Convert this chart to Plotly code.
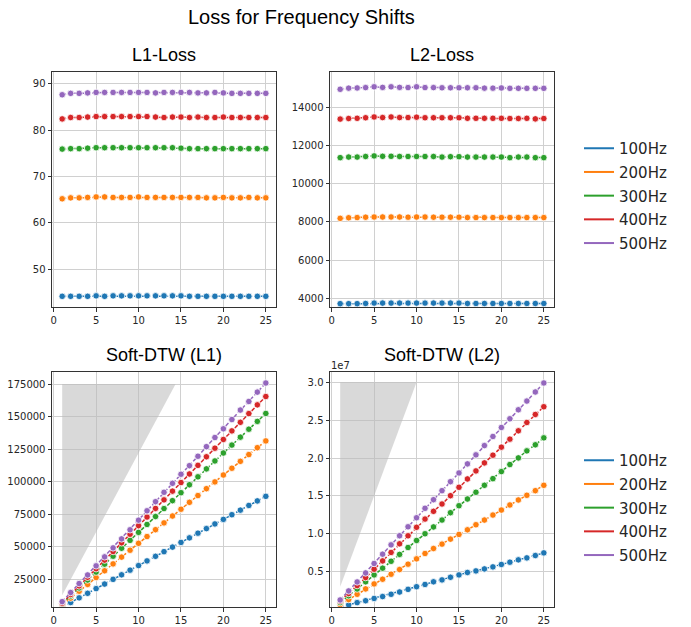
import plotly.graph_objects as go
from plotly.subplots import make_subplots

W, H = 691, 627

steps = list(range(1, 26))
labels = ["100Hz", "200Hz", "300Hz", "400Hz", "500Hz"]
colors = ["#1f77b4", "#ff7f0e", "#2ca02c", "#d62728", "#9467bd"]

l1_100 = [44.2,44.2,44.2,44.2,44.3,44.2,44.3,44.3,44.3,44.3,44.3,44.3,44.3,44.3,44.3,44.2,44.2,44.2,44.2,44.2,44.2,44.2,44.2,44.2,44.2]
l1_200 = [65.2,65.4,65.4,65.5,65.6,65.6,65.5,65.5,65.5,65.6,65.5,65.5,65.5,65.5,65.5,65.5,65.5,65.4,65.4,65.5,65.4,65.4,65.5,65.4,65.4]
l1_300 = [75.9,76.0,76.0,76.1,76.2,76.2,76.2,76.2,76.2,76.2,76.2,76.2,76.2,76.2,76.1,76.0,76.0,76.0,76.0,76.0,76.0,76.0,76.0,76.0,76.0]
l1_400 = [82.4,82.7,82.7,82.8,82.9,82.9,82.9,82.9,82.9,82.9,82.9,82.8,82.7,82.8,82.8,82.7,82.8,82.7,82.7,82.8,82.7,82.7,82.7,82.7,82.7]
l1_500 = [87.6,87.9,87.9,88.0,88.1,88.1,88.1,88.1,88.1,88.1,88.1,88.0,88.1,88.1,88.1,88.1,88.0,88.0,88.1,88.0,87.9,87.9,87.9,87.9,87.9]

l2_100 = [3720,3720,3720,3730,3750,3750,3750,3750,3750,3750,3750,3750,3750,3750,3750,3730,3730,3730,3730,3730,3730,3730,3730,3730,3730]
l2_200 = [8190,8220,8230,8250,8260,8260,8260,8260,8250,8260,8260,8250,8250,8250,8250,8230,8230,8230,8230,8230,8230,8230,8230,8230,8230]
l2_300 = [11370,11400,11400,11430,11460,11440,11440,11430,11430,11430,11430,11430,11400,11420,11420,11400,11400,11400,11400,11400,11370,11400,11400,11370,11370]
l2_400 = [13390,13420,13430,13460,13500,13470,13500,13470,13470,13490,13460,13460,13460,13460,13460,13430,13430,13430,13430,13430,13420,13420,13430,13400,13420]
l2_500 = [14950,15010,15020,15040,15080,15050,15080,15050,15040,15080,15040,15040,15030,15030,15030,15030,15030,15010,15010,15020,15000,15000,15000,15000,15000]

sd1_100 = [3600,7100,10700,14200,17800,21300,24900,28400,32000,35500,39100,42600,46200,49700,53300,56800,60400,63900,67500,71000,74600,78100,81700,85200,88700]
sd1_200 = [5300,10500,15800,21000,26300,31500,36800,42000,47300,52600,57800,63100,68300,73600,78800,84100,89300,94600,99800,105100,110300,115600,120800,126100,131300]
sd1_300 = [6100,12200,18300,24400,30500,36600,42700,48800,54900,61000,67100,73200,79300,85400,91500,97600,103700,109800,115900,122000,128100,134200,140300,146300,152400]
sd1_400 = [6600,13300,19900,26500,33100,39700,46300,53000,59600,66200,72800,79400,86000,92700,99300,105900,112500,119100,125700,132400,139000,145600,152300,159000,165400]
sd1_500 = [7800,14800,21700,28300,35300,42200,49100,56000,63000,70400,77600,84600,91800,98700,105700,112300,119500,126900,133900,140600,147700,155000,161600,168800,175800]

# Soft-DTW (L2) values in units of 1e7 (as displayed on the axis)
sd2_100 = [0.03,0.06,0.09,0.115,0.145,0.17,0.20,0.23,0.265,0.30,0.33,0.365,0.39,0.425,0.456,0.488,0.509,0.535,0.562,0.594,0.624,0.655,0.681,0.712,0.747]
sd2_200 = [0.064,0.130,0.200,0.271,0.337,0.399,0.465,0.527,0.598,0.668,0.739,0.805,0.863,0.929,0.991,1.052,1.119,1.181,1.247,1.313,1.380,1.446,1.508,1.569,1.640]
sd2_300 = [0.090,0.180,0.270,0.365,0.456,0.545,0.636,0.727,0.818,0.911,1.000,1.090,1.181,1.278,1.370,1.459,1.548,1.640,1.728,1.821,1.914,2.002,2.095,2.175,2.267]
sd2_400 = [0.111,0.210,0.315,0.421,0.531,0.641,0.753,0.867,0.973,1.085,1.194,1.296,1.393,1.503,1.614,1.724,1.830,1.936,2.038,2.144,2.250,2.360,2.470,2.576,2.678]
sd2_500 = [0.125,0.244,0.363,0.482,0.607,0.730,0.853,0.973,1.092,1.211,1.336,1.450,1.569,1.688,1.803,1.923,2.042,2.165,2.285,2.404,2.519,2.638,2.753,2.873,2.992]

# grey band polygons (x, y)
band1_x = [1, 1, 14.37]
band1_y = [12700, 175000, 175000]
band2_x = [1, 1, 10]
band2_y = [0.3, 3.0, 3.0]

panels = [
    ("L1-Loss", [l1_100, l1_200, l1_300, l1_400, l1_500], 1, 1),
    ("L2-Loss", [l2_100, l2_200, l2_300, l2_400, l2_500], 1, 2),
    ("Soft-DTW (L1)", [sd1_100, sd1_200, sd1_300, sd1_400, sd1_500], 2, 1),
    ("Soft-DTW (L2)", [sd2_100, sd2_200, sd2_300, sd2_400, sd2_500], 2, 2),
]

fig = make_subplots(rows=2, cols=2)

# bands
fig.add_trace(go.Scatter(x=band1_x, y=band1_y, fill="toself", mode="none",
                         fillcolor="rgba(185,185,185,0.55)", showlegend=False, hoverinfo="skip"), row=2, col=1)
fig.add_trace(go.Scatter(x=band2_x, y=band2_y, fill="toself", mode="none",
                         fillcolor="rgba(185,185,185,0.55)", showlegend=False, hoverinfo="skip"), row=2, col=2)

for title, series, r, c in panels:
    for vals, col in zip(series, colors):
        fig.add_trace(go.Scatter(
            x=steps, y=vals, mode="lines+markers",
            line=dict(color=col, width=1.5, dash="4px,2px"),
            marker=dict(symbol="circle", size=6.5, color=col, line=dict(color="white", width=0.8)),
            showlegend=False), row=r, col=c)

# legend entries
for lg in ["legend", "legend2"]:
    for lab, col in zip(labels, colors):
        fig.add_trace(go.Scatter(x=[None], y=[None], mode="lines", name=lab,
                                 legendgroup=lg + lab,
                                 line=dict(color=col, width=2), legend=lg))

xl = [52 / W, 276 / W]
xr = [330 / W, 554 / W]
yt = [1 - 307 / H, 1 - 72 / H]
yb = [1 - 607 / H, 1 - 372 / H]

tickfont = dict(family="DejaVu Sans", size=10, color="#262626")
axis_common = dict(showgrid=True, gridcolor="#d0d0d0", gridwidth=1, zeroline=False,
                   showline=True, linecolor="#333333", linewidth=1, mirror=True,
                   ticks="outside", ticklen=3.5, tickcolor="#333333", tickfont=tickfont)

legend_font = dict(family="DejaVu Sans", size=15, color="#262626")

fig.update_layout(
    width=W, height=H, margin=dict(l=0, r=0, t=0, b=0),
    paper_bgcolor="white", plot_bgcolor="white",
    xaxis=dict(domain=xl, anchor="y", range=[-0.2, 26.2], tickvals=[0, 5, 10, 15, 20, 25], **axis_common),
    yaxis=dict(domain=yt, anchor="x", range=[41.9, 92.5], tickvals=[50, 60, 70, 80, 90], **axis_common),
    xaxis2=dict(domain=xr, anchor="y2", range=[-0.2, 26.2], tickvals=[0, 5, 10, 15, 20, 25], **axis_common),
    yaxis2=dict(domain=yt, anchor="x2", range=[3545, 15856], tickvals=[4000, 6000, 8000, 10000, 12000, 14000],
                ticktext=["4000", "6000", "8000", "10000", "12000", "14000"], **axis_common),
    xaxis3=dict(domain=xl, anchor="y3", range=[-0.2, 26.2], tickvals=[0, 5, 10, 15, 20, 25], **axis_common),
    yaxis3=dict(domain=yb, anchor="x3", range=[3670, 184250],
                tickvals=[25000, 50000, 75000, 100000, 125000, 150000, 175000],
                ticktext=["25000", "50000", "75000", "100000", "125000", "150000", "175000"], **axis_common),
    xaxis4=dict(domain=xr, anchor="y4", range=[-0.2, 26.2], tickvals=[0, 5, 10, 15, 20, 25], **axis_common),
    yaxis4=dict(domain=yb, anchor="x4", range=[0.032, 3.137], tickvals=[0.5, 1.0, 1.5, 2.0, 2.5, 3.0],
                ticktext=["0.5", "1.0", "1.5", "2.0", "2.5", "3.0"], **axis_common),
    legend=dict(x=579 / W, y=1 - 132 / H, xanchor="left", yanchor="top", tracegroupgap=1.2,
                font=legend_font, bgcolor="rgba(0,0,0,0)"),
    legend2=dict(x=579 / W, y=1 - 444 / H, xanchor="left", yanchor="top", tracegroupgap=1.2,
                 font=legend_font, bgcolor="rgba(0,0,0,0)"),
    showlegend=True,
)

title_font = dict(family="Liberation Sans", size=18, color="black")
annotations = [
    dict(text="Loss for Frequency Shifts", x=301 / W, y=1 - 17 / H, xref="paper", yref="paper",
         xanchor="center", yanchor="middle", showarrow=False,
         font=dict(family="Liberation Sans", size=20, color="black")),
    dict(text="L1-Loss", x=(xl[0] + xl[1]) / 2, y=1 - 55 / H, xref="paper", yref="paper",
         xanchor="center", yanchor="middle", showarrow=False, font=title_font),
    dict(text="L2-Loss", x=(xr[0] + xr[1]) / 2, y=1 - 55 / H, xref="paper", yref="paper",
         xanchor="center", yanchor="middle", showarrow=False, font=title_font),
    dict(text="Soft-DTW (L1)", x=(xl[0] + xl[1]) / 2, y=1 - 355 / H, xref="paper", yref="paper",
         xanchor="center", yanchor="middle", showarrow=False, font=title_font),
    dict(text="Soft-DTW (L2)", x=(xr[0] + xr[1]) / 2, y=1 - 355 / H, xref="paper", yref="paper",
         xanchor="center", yanchor="middle", showarrow=False, font=title_font),
    dict(text="1e7", x=329 / W, y=1 - 365 / H, xref="paper", yref="paper",
         xanchor="left", yanchor="middle", showarrow=False, font=tickfont),
]
fig.update_layout(annotations=annotations)

fig.write_html("out.html", config={"displayModeBar": False},
               post_script="document.body.style.margin='0';")
